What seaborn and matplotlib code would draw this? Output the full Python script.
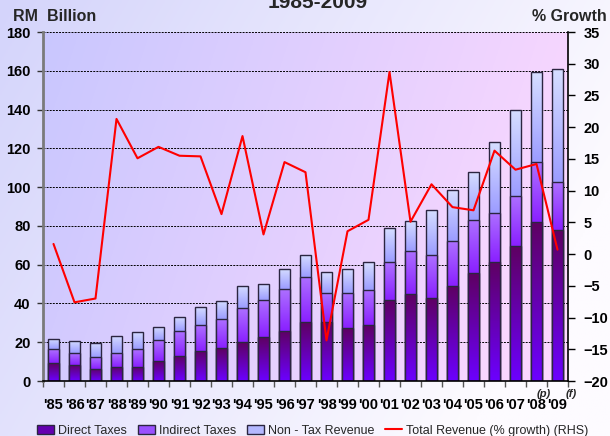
import numpy as np
import pandas as pd
import matplotlib
matplotlib.use("Agg")
import matplotlib.pyplot as plt
import seaborn as sns
from matplotlib.colors import LinearSegmentedColormap, to_rgb
from matplotlib.patches import Patch
from matplotlib.lines import Line2D

# Federal government revenue, RM billion, 1985-2009
years = ["'85", "'86", "'87", "'88", "'89", "'90", "'91", "'92", "'93", "'94",
         "'95", "'96", "'97", "'98", "'99", "'00", "'01", "'02", "'03", "'04",
         "'05", "'06", "'07", "'08", "'09"]
direct_taxes = [9.1, 8.4, 6.2, 7.4, 7.4, 10.3, 13.1, 15.5, 16.9, 20.1,
                22.5, 25.8, 30.2, 30.5, 27.2, 28.9, 42.0, 44.7, 43.0, 49.0,
                55.5, 61.5, 69.6, 82.2, 77.9]
indirect_taxes = [7.2, 5.9, 6.0, 6.9, 8.9, 10.8, 12.7, 13.2, 14.9, 17.4,
                  19.1, 21.5, 23.3, 14.9, 18.2, 18.2, 19.5, 22.2, 22.0, 23.2,
                  27.4, 25.3, 26.0, 30.9, 24.7]
non_tax_revenue = [5.2, 6.3, 7.6, 8.9, 8.8, 6.9, 7.4, 9.6, 9.3, 11.5,
                   8.6, 10.5, 11.6, 10.8, 12.5, 14.2, 17.3, 15.8, 23.2, 26.5,
                   25.1, 36.3, 44.0, 46.3, 58.2]
revenue_growth = [1.6, -7.6, -7.0, 21.3, 15.1, 16.9, 15.5, 15.4, 6.3, 18.6,
                  3.1, 14.5, 12.9, -13.6, 3.6, 5.4, 28.7, 5.1, 11.0, 7.4,
                  6.9, 16.3, 13.3, 14.2, 0.7]

sns.set_theme(style="ticks")
plt.rcParams["font.family"] = ["Liberation Sans", "DejaVu Sans"]
plt.rcParams["font.weight"] = "bold"

df = pd.DataFrame({
    "year": years,
    "direct": direct_taxes,
    "indirect": indirect_taxes,
    "non_tax": non_tax_revenue,
    "growth": revenue_growth,
})
df["lvl1"] = df["direct"]
df["lvl2"] = df["lvl1"] + df["indirect"]
df["lvl3"] = df["lvl2"] + df["non_tax"]
df["pos"] = np.arange(len(df))

W, H = 610, 436
fig = plt.figure(figsize=(W / 100, H / 100), dpi=100)


def blend(c0, c1, t):
    a, b = np.array(to_rgb(c0)), np.array(to_rgb(c1))
    return a * (1 - t[..., None]) + b * t[..., None]


# page background: lavender fading to white
gx, gy = np.meshgrid(np.linspace(0, 1, 300), np.linspace(0, 1, 300))
bg = fig.add_axes([0, 0, 1, 1], zorder=-10)
bg.imshow(blend("#d4d4fb", "#fdfbff", np.clip(0.85 * gx + 0.35 * gy, 0, 1)),
          aspect="auto", extent=[0, 1, 0, 1])
bg.axis("off")

# plot area
pos = [43 / W, 55 / H, 525 / W, 349 / H]
pbg = fig.add_axes(pos, zorder=-5)
pbg.imshow(blend("#c9c7ff", "#ffd9fe", np.clip(0.82 * gx + 0.18 * gy, 0, 1)),
           aspect="auto", extent=[0, 1, 0, 1])
pbg.axis("off")

ax = fig.add_axes(pos)
ax.patch.set_visible(False)

layers = [
    ("lvl3", "lvl2", "#a9a9ff", ("#9c9cff", "#d6deff")),
    ("lvl2", "lvl1", "#9a44ff", ("#8a20ff", "#ad70ff")),
    ("lvl1", None, "#6400b0", ("#6c00ff", "#5e0062")),
]
grad = np.linspace(0, 1, 64).reshape(-1, 1)
for k, (top_col, base_col, solid, (c_bot, c_top)) in enumerate(layers):
    n0 = len(ax.patches)
    sns.barplot(data=df, x="year", y=top_col, order=years, color=solid,
                saturation=1, width=0.57, errorbar=None, ax=ax,
                edgecolor="#2b2540", linewidth=1.0)
    cmap = LinearSegmentedColormap.from_list(f"seg{k}", [c_bot, c_top])
    bottoms = df[base_col] if base_col else np.zeros(len(df))
    for p, lo, hi in zip(ax.patches[n0:], bottoms, df[top_col]):
        x0, w = p.get_x(), p.get_width()
        im = ax.imshow(grad, extent=[x0, x0 + w, lo, hi], origin="lower",
                       aspect="auto", cmap=cmap, zorder=2 + k * 0.1)
        im.set_clip_path(p)
        p.set_facecolor("none")
        p.set_zorder(2 + k * 0.1 + 0.05)

ax.set_xlim(-0.5, len(years) - 0.5)
ax.set_ylim(0, 180)
ax.set_yticks(range(0, 181, 20))
ax.set_xlabel("")
ax.set_ylabel("")
ax.set_xticks(range(len(years)))
ax.set_xticklabels(years)
ax.set_xticks(np.arange(-0.5, len(years), 1), minor=True)
ax.tick_params(axis="x", which="major", length=0, pad=12, labelsize=10.5,
               labelcolor="black")
ax.tick_params(axis="x", which="minor", bottom=True, length=4, width=1,
               color="#555555", direction="out")
ax.tick_params(axis="y", left=True, length=4, width=1, color="#333333",
               direction="out", pad=5, labelsize=10.5, labelcolor="black")
ax.yaxis.grid(True, linestyle=(0, (2, 1.2)), color="black", linewidth=0.7)
ax.set_axisbelow(True)
for s in ("top", "right"):
    ax.spines[s].set_visible(False)
ax.spines["left"].set_color("#7a7a7a")
ax.spines["left"].set_linewidth(2)
ax.spines["bottom"].set_color("black")
ax.spines["bottom"].set_linewidth(1.2)

# growth line on the right-hand axis
ax2 = ax.twinx()
sns.lineplot(data=df, x="pos", y="growth", color="#ff0000", linewidth=1.5,
             ax=ax2, legend=False)
ax2.set_ylim(-20, 35)
ax2.set_yticks(range(-20, 36, 5))
ax2.set_xlim(-0.5, len(years) - 0.5)
ax2.set_xlabel("")
ax2.set_ylabel("")
ax2.tick_params(axis="y", right=True, length=5, width=1, color="black",
                direction="out", pad=6, labelsize=10.5, labelcolor="black")
for s in ("top", "left", "bottom"):
    ax2.spines[s].set_visible(False)
ax2.spines["right"].set_color("black")
ax2.spines["right"].set_linewidth(1.2)

for txt, xpos in (("(p)", 23.34), ("(f)", 24.67)):
    ax.annotate(txt, xy=(xpos, 0), xycoords=("data", "axes fraction"),
                xytext=(0, -9), textcoords="offset points", ha="center",
                va="center", fontsize=8, style="italic")

fig.text(13 / W, 1 - 21 / H, "RM  Billion", ha="left", va="baseline",
         fontsize=11.5)
fig.text(607 / W, 1 - 21 / H, "% Growth", ha="right", va="baseline",
         fontsize=11.5)
fig.text(318 / W, 1 - 8.5 / H, "1985-2009", ha="center", va="baseline",
         fontsize=15)

handles = [
    Patch(facecolor="#6400b0", edgecolor="#2b2540"),
    Patch(facecolor="#9a50ff", edgecolor="#2b2540"),
    Patch(facecolor="#b4b8ff", edgecolor="#2b2540"),
    Line2D([0], [0], color="#ff0000", linewidth=1.5),
]
labels = ["Direct Taxes", "Indirect Taxes", "Non - Tax Revenue",
          "Total Revenue (% growth) (RHS)"]
fig.legend(handles, labels, loc="lower center", bbox_to_anchor=(0.513, -0.027),
           ncol=4, frameon=False, prop={"size": 9, "weight": "normal"},
           handlelength=1.35, handleheight=0.75, columnspacing=0.85,
           handletextpad=0.35)

fig.savefig("out.png", dpi=100)
